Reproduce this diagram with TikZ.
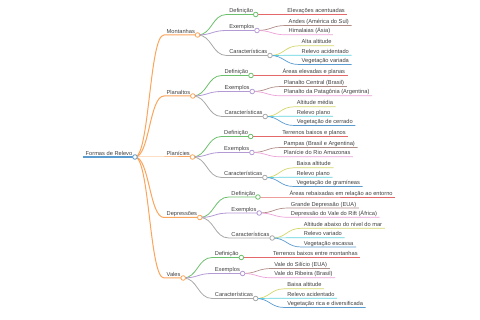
\documentclass[tikz,border=0pt]{standalone}
\usepackage{fontspec}
\setmainfont{Liberation Sans}
\usetikzlibrary{positioning,backgrounds}
\definecolor{cblue}{HTML}{5A9BD0}
\definecolor{corange}{HTML}{FBA55C}
\definecolor{cgreen}{HTML}{6CBF6C}
\definecolor{cred}{HTML}{E4686A}
\definecolor{cpurple}{HTML}{B39AD4}
\definecolor{cbrown}{HTML}{B08C86}
\definecolor{cpink}{HTML}{EEA0D8}
\definecolor{cgray}{HTML}{A8A8A8}
\definecolor{colive}{HTML}{D4D56A}
\definecolor{ccyan}{HTML}{5CD3DF}
\begin{document}
\begin{tikzpicture}[
lbl/.style={anchor=south west,inner xsep=2.5pt,inner ysep=0.5pt,text height=4.3pt,text depth=1.2pt,font=\fontsize{5.7}{6.5}\selectfont,text=black!75},
kid/.style 2 args={right=29pt of #1.south east,anchor=south west,yshift=#2},
mm/.style={to path={.. controls ([xshift=14.5pt]\tikztostart) and ([xshift=-14.5pt]\tikztotarget) .. (\tikztotarget)}},
lvl0/.style={draw=#1,line width=1.2pt},
lvl1/.style={draw=#1,line width=1pt},
lvl2/.style={draw=#1,line width=0.8pt},
lvl3/.style={draw=#1,line width=0.7pt},
hub/.style={draw=#1,fill=white,line width=0.8pt}
]
\useasboundingbox (0,0) rectangle (480pt,320pt);
\node[lbl] (root) at (83pt,163pt) {Formas de Relevo};
\node[lbl,kid={root}{122pt}] (mon) {Montanhas};
\node[lbl,kid={root}{61pt}] (pla) {Planaltos};
\node[lbl,kid={root}{0pt}] (pln) {Planícies};
\node[lbl,kid={root}{-60.5pt}] (dep) {Depressões};
\node[lbl,kid={root}{-121pt}] (val) {Vales};
% Montanhas
\node[lbl,kid={mon}{20.5pt}] (mon-def) {Definição};
\node[lbl,kid={mon}{4.5pt}] (mon-ex) {Exemplos};
\node[lbl,kid={mon}{-20.5pt}] (mon-car) {Características};
\node[lbl,kid={mon-def}{0pt}] (mon-def-a) {Elevações acentuadas};
\node[lbl,kid={mon-ex}{5pt}] (mon-ex-a) {Andes (América do Sul)};
\node[lbl,kid={mon-ex}{-4.3pt}] (mon-ex-b) {Himalaias (Ásia)};
\node[lbl,kid={mon-car}{9.7pt}] (mon-car-a) {Alta altitude};
\node[lbl,kid={mon-car}{0.3pt}] (mon-car-b) {Relevo acidentado};
\node[lbl,kid={mon-car}{-9pt}] (mon-car-c) {Vegetação variada};
% Planaltos
\node[lbl,kid={pla}{20.5pt}] (pla-def) {Definição};
\node[lbl,kid={pla}{4.5pt}] (pla-ex) {Exemplos};
\node[lbl,kid={pla}{-20.5pt}] (pla-car) {Características};
\node[lbl,kid={pla-def}{0pt}] (pla-def-a) {Áreas elevadas e planas};
\node[lbl,kid={pla-ex}{5pt}] (pla-ex-a) {Planalto Central (Brasil)};
\node[lbl,kid={pla-ex}{-4.3pt}] (pla-ex-b) {Planalto da Patagônia (Argentina)};
\node[lbl,kid={pla-car}{9.7pt}] (pla-car-a) {Altitude média};
\node[lbl,kid={pla-car}{0.3pt}] (pla-car-b) {Relevo plano};
\node[lbl,kid={pla-car}{-9pt}] (pla-car-c) {Vegetação de cerrado};
% Planicies
\node[lbl,kid={pln}{20.5pt}] (pln-def) {Definição};
\node[lbl,kid={pln}{4.5pt}] (pln-ex) {Exemplos};
\node[lbl,kid={pln}{-20.5pt}] (pln-car) {Características};
\node[lbl,kid={pln-def}{0pt}] (pln-def-a) {Terrenos baixos e planos};
\node[lbl,kid={pln-ex}{5pt}] (pln-ex-a) {Pampas (Brasil e Argentina)};
\node[lbl,kid={pln-ex}{-4.3pt}] (pln-ex-b) {Planície do Rio Amazonas};
\node[lbl,kid={pln-car}{9.7pt}] (pln-car-a) {Baixa altitude};
\node[lbl,kid={pln-car}{0.3pt}] (pln-car-b) {Relevo plano};
\node[lbl,kid={pln-car}{-9pt}] (pln-car-c) {Vegetação de gramíneas};
% Depressoes
\node[lbl,kid={dep}{20.5pt}] (dep-def) {Definição};
\node[lbl,kid={dep}{4.5pt}] (dep-ex) {Exemplos};
\node[lbl,kid={dep}{-20.5pt}] (dep-car) {Características};
\node[lbl,kid={dep-def}{0pt}] (dep-def-a) {Áreas rebaixadas em relação ao entorno};
\node[lbl,kid={dep-ex}{5pt}] (dep-ex-a) {Grande Depressão (EUA)};
\node[lbl,kid={dep-ex}{-4.3pt}] (dep-ex-b) {Depressão do Vale do Rift (África)};
\node[lbl,kid={dep-car}{9.7pt}] (dep-car-a) {Altitude abaixo do nível do mar};
\node[lbl,kid={dep-car}{0.3pt}] (dep-car-b) {Relevo variado};
\node[lbl,kid={dep-car}{-9pt}] (dep-car-c) {Vegetação escassa};
% Vales
\node[lbl,kid={val}{20.5pt}] (val-def) {Definição};
\node[lbl,kid={val}{4.5pt}] (val-ex) {Exemplos};
\node[lbl,kid={val}{-20.5pt}] (val-car) {Características};
\node[lbl,kid={val-def}{0pt}] (val-def-a) {Terrenos baixos entre montanhas};
\node[lbl,kid={val-ex}{5pt}] (val-ex-a) {Vale do Silício (EUA)};
\node[lbl,kid={val-ex}{-4.3pt}] (val-ex-b) {Vale do Ribeira (Brasil)};
\node[lbl,kid={val-car}{9.7pt}] (val-car-a) {Baixa altitude};
\node[lbl,kid={val-car}{0.3pt}] (val-car-b) {Relevo acidentado};
\node[lbl,kid={val-car}{-9pt}] (val-car-c) {Vegetação rica e diversificada};
\begin{scope}[on background layer]
\draw[lvl0=cblue] (root.south west) -- (root.south east);
\draw[lvl1=corange] (root.south east) to[mm] (mon.south west) -- (mon.south east);
\draw[lvl1=corange] (root.south east) to[mm] (pla.south west) -- (pla.south east);
\draw[lvl1=corange] (root.south east) to[mm] (pln.south west) -- (pln.south east);
\draw[lvl1=corange] (root.south east) to[mm] (dep.south west) -- (dep.south east);
\draw[lvl1=corange] (root.south east) to[mm] (val.south west) -- (val.south east);
% Montanhas
\draw[lvl2=cgreen] (mon.south east) to[mm] (mon-def.south west) -- (mon-def.south east);
\draw[lvl2=cpurple] (mon.south east) to[mm] (mon-ex.south west) -- (mon-ex.south east);
\draw[lvl2=cgray] (mon.south east) to[mm] (mon-car.south west) -- (mon-car.south east);
\draw[lvl3=cred] (mon-def.south east) to[mm] (mon-def-a.south west) -- (mon-def-a.south east);
\draw[lvl3=cbrown] (mon-ex.south east) to[mm] (mon-ex-a.south west) -- (mon-ex-a.south east);
\draw[lvl3=cpink] (mon-ex.south east) to[mm] (mon-ex-b.south west) -- (mon-ex-b.south east);
\draw[lvl3=colive] (mon-car.south east) to[mm] (mon-car-a.south west) -- (mon-car-a.south east);
\draw[lvl3=ccyan] (mon-car.south east) to[mm] (mon-car-b.south west) -- (mon-car-b.south east);
\draw[lvl3=cblue] (mon-car.south east) to[mm] (mon-car-c.south west) -- (mon-car-c.south east);
% Planaltos
\draw[lvl2=cgreen] (pla.south east) to[mm] (pla-def.south west) -- (pla-def.south east);
\draw[lvl2=cpurple] (pla.south east) to[mm] (pla-ex.south west) -- (pla-ex.south east);
\draw[lvl2=cgray] (pla.south east) to[mm] (pla-car.south west) -- (pla-car.south east);
\draw[lvl3=cred] (pla-def.south east) to[mm] (pla-def-a.south west) -- (pla-def-a.south east);
\draw[lvl3=cbrown] (pla-ex.south east) to[mm] (pla-ex-a.south west) -- (pla-ex-a.south east);
\draw[lvl3=cpink] (pla-ex.south east) to[mm] (pla-ex-b.south west) -- (pla-ex-b.south east);
\draw[lvl3=colive] (pla-car.south east) to[mm] (pla-car-a.south west) -- (pla-car-a.south east);
\draw[lvl3=ccyan] (pla-car.south east) to[mm] (pla-car-b.south west) -- (pla-car-b.south east);
\draw[lvl3=cblue] (pla-car.south east) to[mm] (pla-car-c.south west) -- (pla-car-c.south east);
% Planicies
\draw[lvl2=cgreen] (pln.south east) to[mm] (pln-def.south west) -- (pln-def.south east);
\draw[lvl2=cpurple] (pln.south east) to[mm] (pln-ex.south west) -- (pln-ex.south east);
\draw[lvl2=cgray] (pln.south east) to[mm] (pln-car.south west) -- (pln-car.south east);
\draw[lvl3=cred] (pln-def.south east) to[mm] (pln-def-a.south west) -- (pln-def-a.south east);
\draw[lvl3=cbrown] (pln-ex.south east) to[mm] (pln-ex-a.south west) -- (pln-ex-a.south east);
\draw[lvl3=cpink] (pln-ex.south east) to[mm] (pln-ex-b.south west) -- (pln-ex-b.south east);
\draw[lvl3=colive] (pln-car.south east) to[mm] (pln-car-a.south west) -- (pln-car-a.south east);
\draw[lvl3=ccyan] (pln-car.south east) to[mm] (pln-car-b.south west) -- (pln-car-b.south east);
\draw[lvl3=cblue] (pln-car.south east) to[mm] (pln-car-c.south west) -- (pln-car-c.south east);
% Depressoes
\draw[lvl2=cgreen] (dep.south east) to[mm] (dep-def.south west) -- (dep-def.south east);
\draw[lvl2=cpurple] (dep.south east) to[mm] (dep-ex.south west) -- (dep-ex.south east);
\draw[lvl2=cgray] (dep.south east) to[mm] (dep-car.south west) -- (dep-car.south east);
\draw[lvl3=cred] (dep-def.south east) to[mm] (dep-def-a.south west) -- (dep-def-a.south east);
\draw[lvl3=cbrown] (dep-ex.south east) to[mm] (dep-ex-a.south west) -- (dep-ex-a.south east);
\draw[lvl3=cpink] (dep-ex.south east) to[mm] (dep-ex-b.south west) -- (dep-ex-b.south east);
\draw[lvl3=colive] (dep-car.south east) to[mm] (dep-car-a.south west) -- (dep-car-a.south east);
\draw[lvl3=ccyan] (dep-car.south east) to[mm] (dep-car-b.south west) -- (dep-car-b.south east);
\draw[lvl3=cblue] (dep-car.south east) to[mm] (dep-car-c.south west) -- (dep-car-c.south east);
% Vales
\draw[lvl2=cgreen] (val.south east) to[mm] (val-def.south west) -- (val-def.south east);
\draw[lvl2=cpurple] (val.south east) to[mm] (val-ex.south west) -- (val-ex.south east);
\draw[lvl2=cgray] (val.south east) to[mm] (val-car.south west) -- (val-car.south east);
\draw[lvl3=cred] (val-def.south east) to[mm] (val-def-a.south west) -- (val-def-a.south east);
\draw[lvl3=cbrown] (val-ex.south east) to[mm] (val-ex-a.south west) -- (val-ex-a.south east);
\draw[lvl3=cpink] (val-ex.south east) to[mm] (val-ex-b.south west) -- (val-ex-b.south east);
\draw[lvl3=colive] (val-car.south east) to[mm] (val-car-a.south west) -- (val-car-a.south east);
\draw[lvl3=ccyan] (val-car.south east) to[mm] (val-car-b.south west) -- (val-car-b.south east);
\draw[lvl3=cblue] (val-car.south east) to[mm] (val-car-c.south west) -- (val-car-c.south east);
\end{scope}
% circles
\draw[hub=cblue] (root.south east) circle[radius=2.3pt];
\draw[hub=corange] (mon.south east) circle[radius=2.3pt];
\draw[hub=corange] (pla.south east) circle[radius=2.3pt];
\draw[hub=corange] (pln.south east) circle[radius=2.3pt];
\draw[hub=corange] (dep.south east) circle[radius=2.3pt];
\draw[hub=corange] (val.south east) circle[radius=2.3pt];
\draw[hub=cgreen] (mon-def.south east) circle[radius=2.3pt];
\draw[hub=cpurple] (mon-ex.south east) circle[radius=2.3pt];
\draw[hub=cgray] (mon-car.south east) circle[radius=2.3pt];
\draw[hub=cgreen] (pla-def.south east) circle[radius=2.3pt];
\draw[hub=cpurple] (pla-ex.south east) circle[radius=2.3pt];
\draw[hub=cgray] (pla-car.south east) circle[radius=2.3pt];
\draw[hub=cgreen] (pln-def.south east) circle[radius=2.3pt];
\draw[hub=cpurple] (pln-ex.south east) circle[radius=2.3pt];
\draw[hub=cgray] (pln-car.south east) circle[radius=2.3pt];
\draw[hub=cgreen] (dep-def.south east) circle[radius=2.3pt];
\draw[hub=cpurple] (dep-ex.south east) circle[radius=2.3pt];
\draw[hub=cgray] (dep-car.south east) circle[radius=2.3pt];
\draw[hub=cgreen] (val-def.south east) circle[radius=2.3pt];
\draw[hub=cpurple] (val-ex.south east) circle[radius=2.3pt];
\draw[hub=cgray] (val-car.south east) circle[radius=2.3pt];
\end{tikzpicture}
\end{document}
